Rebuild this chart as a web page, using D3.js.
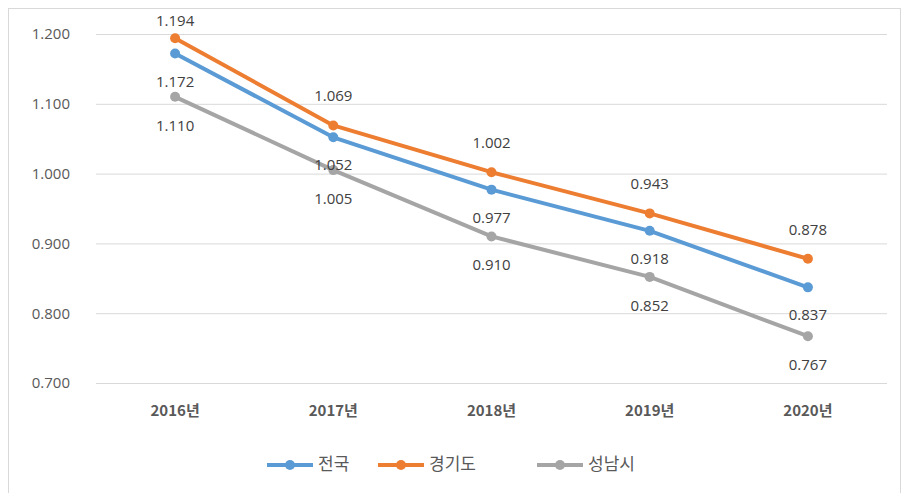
<!DOCTYPE html>
<html>
<head>
<meta charset="utf-8">
<script src="https://cdn.jsdelivr.net/npm/d3@7"></script>
<style>
  body { margin: 0; background: #fff; }
  svg text { font-family: "Noto Sans CJK KR", "Noto Sans", sans-serif; }
</style>
</head>
<body>
<div class="chart"></div>
<script>
const years = ["2016년", "2017년", "2018년", "2019년", "2020년"];
const seriesNames = ["전국", "경기도", "성남시"];
const national = [1.172, 1.052, 0.977, 0.918, 0.837];
const gyeonggi = [1.194, 1.069, 1.002, 0.943, 0.878];
const seongnam = [1.110, 1.005, 0.910, 0.852, 0.767];
const yTicks = [0.7, 0.8, 0.9, 1.0, 1.1, 1.2];

const colors = ["#5b9bd5", "#ed7d31", "#a5a5a5"];
// label offset: orange above, others below
const labelDy = [29, -28, 30];

const width = 903, height = 493;
const margin = {top: 34, right: 16, bottom: 110, left: 96};
const w = width - margin.left - margin.right;
const h = height - margin.top - margin.bottom;

const svg = d3.select('.chart')
  .append('svg')
  .attr('width', width)
  .attr('height', height);

// outer frame
svg.append('rect')
  .attr('x', 8.5).attr('y', 8.5)
  .attr('width', 892).attr('height', 500)
  .attr('fill', 'none')
  .attr('stroke', '#d9d9d9');

const g = svg.append('g')
  .attr('transform', 'translate(' + margin.left + ',' + margin.top + ')');

const xScale = d3.scaleBand().domain(years).range([0, w]);
const yScale = d3.scaleLinear().domain([0.7, 1.2]).range([h, 0]);

// grid + y labels
const yAxis = g.append('g')
  .call(d3.axisLeft(yScale)
    .tickValues(yTicks)
    .tickSize(-w)
    .tickFormat(d3.format('.3f')));
yAxis.select('.domain').remove();
yAxis.selectAll('line').attr('stroke', '#d9d9d9').attr('stroke-width', 1);
yAxis.selectAll('text')
  .attr('x', -26)
  .attr('fill', '#595959')
  .style('font-size', '15px')
  .style('font-family', '"Open Sans", sans-serif');

// x labels
const xAxis = g.append('g')
  .attr('transform', 'translate(0,' + h + ')')
  .call(d3.axisBottom(xScale).tickSize(0).tickPadding(22));
xAxis.select('.domain').remove();
xAxis.selectAll('text')
  .attr('fill', '#595959')
  .style('font-size', '15px')
  .style('font-weight', 'bold');

const data = [national, gyeonggi, seongnam];
const cx = (d, i) => xScale(years[i]) + xScale.bandwidth() / 2;

const line = d3.line()
  .x((d, i) => cx(d, i))
  .y(d => yScale(d));

// draw gray first, then blue, then orange on top
[2, 0, 1].forEach(s => {
  g.append('path')
    .datum(data[s])
    .attr('fill', 'none')
    .attr('stroke', colors[s])
    .attr('stroke-width', 4)
    .attr('stroke-linejoin', 'round')
    .attr('d', line);
  g.selectAll('.pt' + s)
    .data(data[s])
    .enter()
    .append('circle')
    .attr('cx', cx)
    .attr('cy', d => yScale(d))
    .attr('r', 5)
    .attr('fill', colors[s]);
});

data.forEach((vals, s) => {
  g.selectAll('.lbl' + s)
    .data(vals)
    .enter()
    .append('text')
    .attr('x', cx)
    .attr('y', d => Math.max(-12, yScale(d) + labelDy[s]))
    .attr('text-anchor', 'middle')
    .attr('dominant-baseline', 'middle')
    .attr('fill', '#404040')
    .style('font-size', '15px')
    .style('font-family', '"Open Sans", sans-serif')
    .text(d => d3.format('.3f')(d));
});

// legend
const legendX = [267, 378, 537];
const legend = svg.append('g').attr('transform', 'translate(0,465)');
seriesNames.forEach((name, s) => {
  const lg = legend.append('g').attr('transform', 'translate(' + legendX[s] + ',0)');
  lg.append('line')
    .attr('x1', 0).attr('x2', 46)
    .attr('stroke', colors[s]).attr('stroke-width', 4);
  lg.append('circle').attr('cx', 23).attr('r', 5).attr('fill', colors[s]);
  lg.append('text')
    .attr('x', 51)
    .attr('dominant-baseline', 'middle')
    .attr('fill', '#595959')
    .style('font-size', '17px')
    .text(name);
});
</script>
</body>
</html>
